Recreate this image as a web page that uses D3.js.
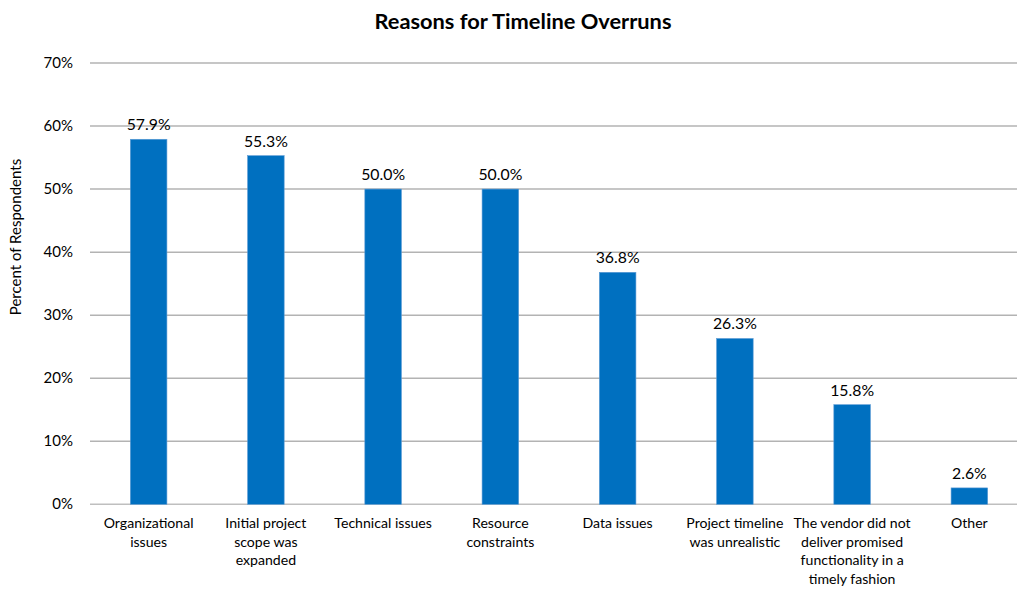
<!DOCTYPE html>
<html>
<head>
<meta charset="utf-8">
<script src="https://cdn.jsdelivr.net/npm/d3@7"></script>
<style>
  body { margin: 0; background: #fff; }
  text { font-family: Lato, "Open Sans", sans-serif; fill: #000; }
</style>
</head>
<body>
<svg id="chart" width="1017" height="595"></svg>
<script>
// data
const categories = [
  ["Organizational", "issues"],
  ["Initial project", "scope was", "expanded"],
  ["Technical issues"],
  ["Resource", "constraints"],
  ["Data issues"],
  ["Project timeline", "was unrealistic"],
  ["The vendor did not", "deliver promised", "functionality in a", "timely fashion"],
  ["Other"]
]
const values = [57.9, 55.3, 50.0, 50.0, 36.8, 26.3, 15.8, 2.6]
const yTicks = [0, 10, 20, 30, 40, 50, 60, 70]

const svg = d3.select("#chart")
const margin = {left: 90, top: 63, bottom: 91}
const plotRight = 1028
const height = 595

const x = d3.scaleBand()
  .domain(d3.range(categories.length))
  .range([margin.left, plotRight])
  .paddingInner(0.688)
  .paddingOuter(0.344)

const y = d3.scaleLinear()
  .domain([0, 70])
  .range([height - margin.bottom + 0.3, margin.top])

// gridlines
svg.append("g")
  .selectAll("line")
  .data(yTicks)
  .join("line")
    .attr("x1", margin.left)
    .attr("x2", plotRight)
    .attr("y1", d => y(d))
    .attr("y2", d => y(d))
    .attr("stroke", d => d == 0 ? "#bfbfbf" : "#b3b3b3")
    .attr("stroke-width", 1.5)

// y tick labels
svg.append("g")
  .selectAll("text")
  .data(yTicks)
  .join("text")
    .attr("x", 73)
    .attr("y", d => y(d) + 5)
    .attr("text-anchor", "end")
    .style("font-size", "15px")
    .text(d => d + "%")

// bars
svg.append("g")
  .selectAll("rect")
  .data(values)
  .join("rect")
    .attr("x", (d, i) => x(i))
    .attr("y", d => y(d))
    .attr("width", x.bandwidth())
    .attr("height", d => y(0) - y(d))
    .attr("fill", "#0070c0")
    .attr("stroke", "#5b9bd5")
    .attr("stroke-width", 0.6)

// value labels
svg.append("g")
  .selectAll("text")
  .data(values)
  .join("text")
    .attr("x", (d, i) => x(i) + x.bandwidth() / 2)
    .attr("y", d => y(d) - 9)
    .attr("text-anchor", "middle")
    .style("font-size", "15.8px")
    .text(d => d.toFixed(1) + "%")

// category labels
const catG = svg.append("g")
  .selectAll("text")
  .data(categories)
  .join("text")
    .attr("x", (d, i) => x(i) + x.bandwidth() / 2)
    .attr("y", 528)
    .attr("text-anchor", "middle")
    .style("font-size", "14.1px")
catG.selectAll("tspan")
  .data(d => d)
  .join("tspan")
    .attr("x", function () { return d3.select(this.parentNode).attr("x") })
    .attr("dy", (d, j) => j == 0 ? 0 : 18.7)
    .text(d => d)

// title
svg.append("text")
  .attr("x", 523)
  .attr("y", 29)
  .attr("text-anchor", "middle")
  .style("font-size", "21.8px")
  .style("font-weight", "bold")
  .text("Reasons for Timeline Overruns")

// y axis title
svg.append("text")
  .attr("transform", "translate(21," + 237 + ") rotate(-90)")
  .attr("text-anchor", "middle")
  .style("font-size", "15px")
  .text("Percent of Respondents")
</script>
</body>
</html>
